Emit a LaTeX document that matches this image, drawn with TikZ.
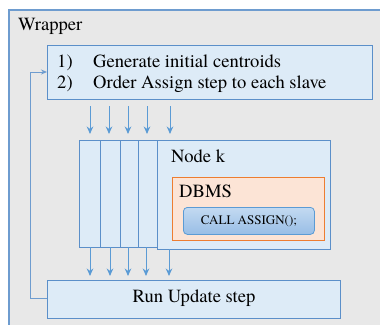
\documentclass[tikz,border=0pt]{standalone}
\usepackage{fontspec}
\IfFontExistsTF{texgyretermes-regular.otf}
  {\setmainfont{texgyretermes-regular.otf}\newcommand\mysz{18.6}\newcommand\mysmall{13}}
  {\newcommand\mysz{16.5}\newcommand\mysmall{12}}
\usetikzlibrary{arrows.meta}
\definecolor{wrapbg}{HTML}{E8E8E8}
\definecolor{wrapline}{HTML}{6E9CCF}
\definecolor{lblue}{HTML}{DDEBF7}
\definecolor{bline}{HTML}{5B8FC9}
\definecolor{arrcol}{HTML}{5B9BD5}
\definecolor{ofill}{HTML}{FCE4D6}
\definecolor{oline}{HTML}{ED7D31}
\definecolor{ctop}{HTML}{C3DAF1}
\definecolor{cbot}{HTML}{98BDE6}
\tikzset{
  bluebox/.style={draw=bline, fill=lblue, line width=1pt, inner sep=0pt, anchor=north west},
  arr/.style={draw=arrcol, line width=1pt, -{Stealth[length=7.5pt,width=6.5pt]}},
  feed/.style={draw=wrapline, line width=1pt, -{Stealth[length=6pt,width=5pt]}},
  txt/.style={font=\rmfamily\fontsize{\mysz}{21}\selectfont, inner sep=0pt},
}
\begin{document}
\begin{tikzpicture}[x=1pt,y=-1pt]
\clip (0,0) rectangle (380,324);
\fill[white] (0,0) rectangle (380,324);
% wrapper
\node[draw=wrapline, fill=wrapbg, line width=2pt, inner sep=0pt, anchor=north west,
      minimum width=390pt, minimum height=330pt] (wrap) at (8,9) {};
\node[txt, anchor=base west] (wraplbl) at (18,30) {Wrapper};
% top box
\node[bluebox, minimum width=325pt, minimum height=54pt] (top) at (47,45) {};
\node[txt, anchor=base west] (n1) at (57,67) {1)};
\node[txt, anchor=base west] (l1) at (93,67) {Generate initial centroids};
\node[txt, anchor=base west] (n2) at (57,88) {2)};
\node[txt, anchor=base west] (l2) at (93,88) {Order Assign step to each slave};
% stacked slave boxes
\node[bluebox, minimum width=251pt, minimum height=107pt] (s1) at (79,140) {};
\node[bluebox, minimum width=230pt, minimum height=107pt] (s2) at (100,140) {};
\node[bluebox, minimum width=210pt, minimum height=107pt] (s3) at (120,140) {};
\node[bluebox, minimum width=192pt, minimum height=107pt] (s4) at (138,140) {};
\node[bluebox, minimum width=173pt, minimum height=109pt] (nodek) at (157,140) {};
\node[txt, anchor=base west] (nodeklbl) at (171,162) {Node k};
% DBMS
\node[draw=oline, fill=ofill, line width=1.2pt, inner sep=0pt, anchor=north west,
      minimum width=152pt, minimum height=63pt] (dbms) at (172,177) {};
\node[txt, anchor=base west] (dbmslbl) at (179,197) {DBMS};
\node[draw=arrcol, top color=ctop, bottom color=cbot, line width=0.8pt, rounded corners=4pt,
      inner sep=0pt, anchor=north west, minimum width=131pt, minimum height=27pt] (call) at (183,207) {};
\node[font=\rmfamily\fontsize{\mysmall}{15}\selectfont, inner sep=0pt] (calllbl) at (call.center) {CALL ASSIGN();};
% bottom box
\node[bluebox, minimum width=293pt, minimum height=38pt] (upd) at (47,280) {};
\node[txt] (updlbl) at ([yshift=1pt]upd.center) {Run Update step};
% arrows into slaves
\foreach \i/\x in {1/90,2/109,3/128,4/147,5/170}{
  \coordinate (ta\i) at (\x,106);
  \coordinate (tb\i) at (\x,134);
  \draw[arr] (ta\i) -- (tb\i);
}
\foreach \i/\x/\y in {1/90/247,2/110/247,3/128/247,4/146/247,5/169/249}{
  \coordinate (ba\i) at (\x,\y);
  \coordinate (bb\i) at (\x,276);
  \draw[arr] (ba\i) -- (bb\i);
}
% feedback loop
\coordinate (fb1) at (30,298);
\coordinate (fb2) at (30,72);
\draw[feed] (upd.west |- fb1) -- (fb1) -- (fb2) -- (top.west |- fb2);
\end{tikzpicture}
\end{document}
